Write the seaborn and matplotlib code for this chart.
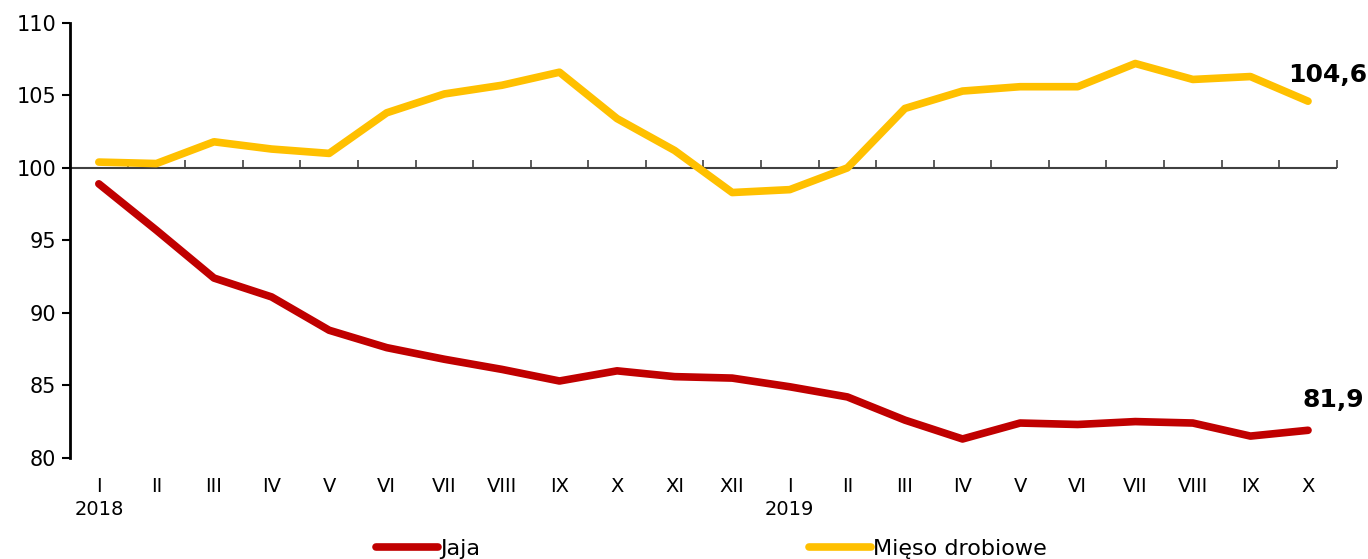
import matplotlib
matplotlib.use("Agg")
import matplotlib.pyplot as plt
import pandas as pd
import numpy as np
import seaborn as sns

months = ["I\n2018", "II", "III", "IV", "V", "VI", "VII", "VIII", "IX", "X", "XI", "XII",
          "I\n2019", "II", "III", "IV", "V", "VI", "VII", "VIII", "IX", "X"]
jaja = [98.9, 95.7, 92.4, 91.1, 88.8, 87.6, 86.8, 86.1, 85.3, 86.0, 85.6, 85.5,
        84.9, 84.2, 82.6, 81.3, 82.4, 82.3, 82.5, 82.4, 81.5, 81.9]
mieso = [100.4, 100.3, 101.8, 101.3, 101.0, 103.8, 105.1, 105.7, 106.6, 103.4, 101.2, 98.3,
         98.5, 100.0, 104.1, 105.3, 105.6, 105.6, 107.2, 106.1, 106.3, 104.6]
series = ["Jaja", "Mięso drobiowe"]
colors = {"Jaja": "#C00000", "Mięso drobiowe": "#FFC000"}

idx = np.arange(len(months))
df = pd.concat([
    pd.DataFrame({"idx": idx, "value": jaja, "series": "Jaja"}),
    pd.DataFrame({"idx": idx, "value": mieso, "series": "Mięso drobiowe"}),
])

sns.set_style("white")
plt.rcParams["font.family"] = ["DejaVu Sans"]
plt.rcParams["text.color"] = "black"
plt.rcParams["xtick.color"] = "black"
plt.rcParams["ytick.color"] = "black"

fig = plt.figure(figsize=(13.68, 5.59), dpi=100)
ax = fig.add_axes([0.0512, 0.181, 0.926, 0.778])

# category axis crossing at 100
ax.axhline(100, color="#404040", linewidth=1.5, zorder=1)

sns.lineplot(data=df, x="idx", y="value", hue="series", palette=colors,
             linewidth=5.5, ax=ax, legend=False, solid_capstyle="round", zorder=3)

ax.set_xlim(-0.5, len(months) - 0.5)
ax.set_ylim(80, 110)
ax.set_yticks([80, 85, 90, 95, 100, 105, 110])
ax.tick_params(axis="y", direction="out", length=6, width=1.5, labelsize=15, pad=4, left=True,
               labelcolor="black")
ax.set_xticks(idx)
ax.set_xticklabels(months, fontsize=14, linespacing=1.25)
ax.tick_params(axis="x", length=0, pad=14, labelcolor="black")
ax.set_xlabel("")
ax.set_ylabel("")
for s in ["top", "right", "bottom"]:
    ax.spines[s].set_visible(False)
ax.spines["left"].set_linewidth(2)
ax.spines["left"].set_color("black")

sec = ax.secondary_xaxis((100 - 80) / 30)
sec.set_xticks(np.arange(len(months) + 1) - 0.5)
sec.set_xticklabels([])
sec.tick_params(direction="out", length=6, width=1.2, color="#404040")
for sp in sec.spines.values():
    sp.set_visible(False)

ax.annotate("104,6", (idx[-1], mieso[-1]), xytext=(14, 19), textcoords="offset points",
            ha="center", va="center", fontsize=18, fontweight="bold", color="black")
ax.annotate("81,9", (idx[-1], jaja[-1]), xytext=(18, 22), textcoords="offset points",
            ha="center", va="center", fontsize=18, fontweight="bold", color="black")

handles = [plt.Line2D([], [], color=colors[s], linewidth=5.5, solid_capstyle="round") for s in series]
fig.legend(handles, series, loc="lower center", bbox_to_anchor=(0.52, -0.035), ncol=2,
           frameon=False, fontsize=16, handlelength=2.8, handletextpad=0.1, columnspacing=14.8,
           labelcolor="black")

fig.savefig("out.png", dpi=100)
